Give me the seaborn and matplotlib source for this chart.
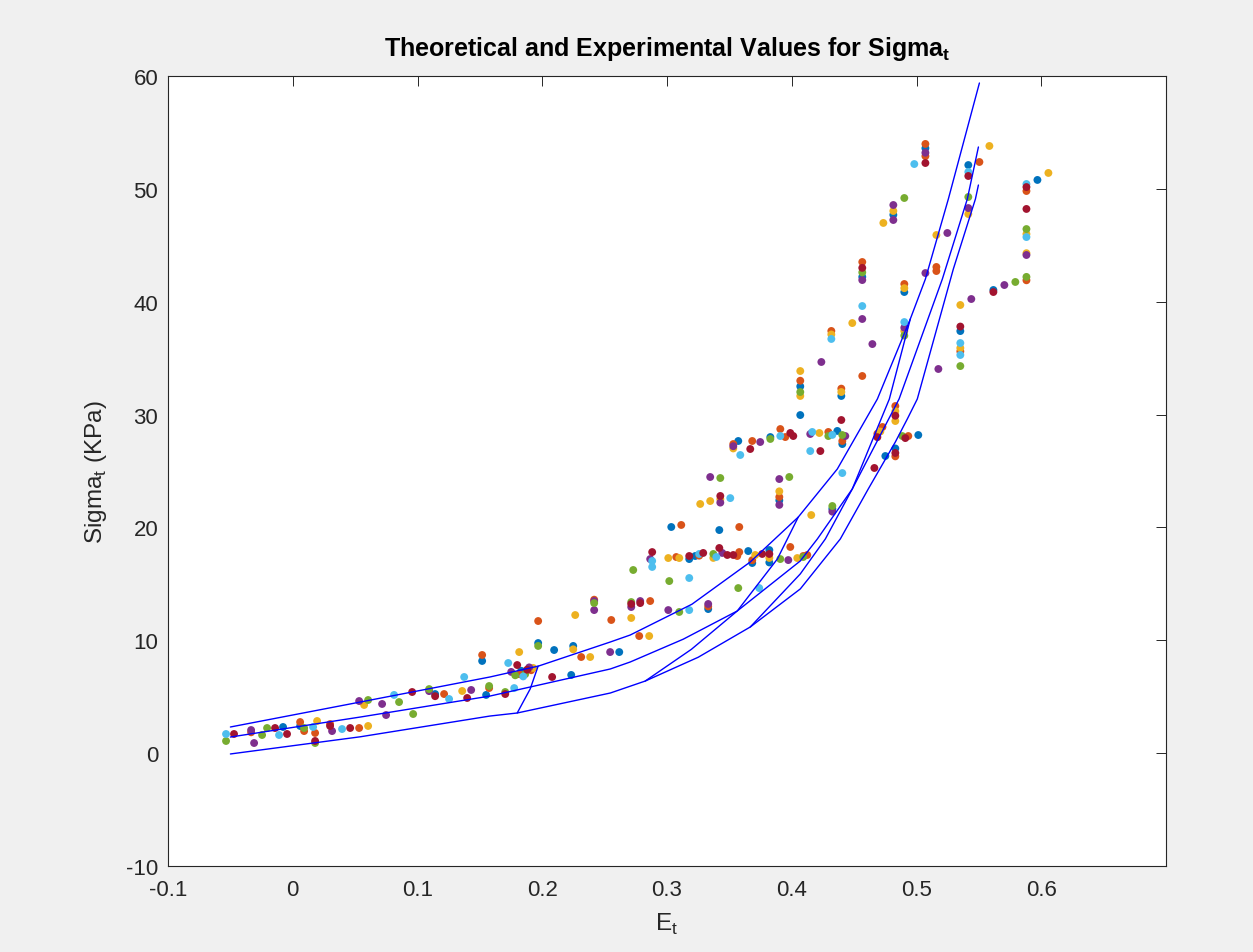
import pandas as pd
import seaborn as sns
import matplotlib
matplotlib.use('Agg')
import matplotlib.pyplot as plt

# experimental points, one list pair per colour
blue_x = [-0.0078, 0.0059, 0.1141, 0.1518, 0.1550, 0.1831, 0.1863, 0.1967, 0.2095, 0.2232, 0.2248, 0.2617,
          0.3034, 0.3178, 0.3226, 0.3330, 0.3419, 0.3571, 0.3651, 0.3683, 0.3820, 0.3820, 0.3828, 0.3900,
          0.4068, 0.4068, 0.4325, 0.4365, 0.4397, 0.4405, 0.4565, 0.4750, 0.4830, 0.4902, 0.5014, 0.4814,
          0.5071, 0.5351, 0.5415, 0.5616, 0.5969]
blue_y = [2.32, 2.41, 5.24, 8.17, 5.16, 7.30, 7.15, 9.76, 9.14, 6.93, 9.50, 8.96,
          20.04, 17.20, 17.47, 12.77, 19.77, 27.66, 17.91, 16.85, 18.00, 16.90, 28.01, 22.40,
          29.96, 32.50, 21.65, 28.55, 31.65, 27.39, 42.20, 26.33, 27.00, 40.86, 28.19, 47.70,
          53.60, 37.40, 52.11, 41.04, 50.79]

orange_x = [-0.0334, 0.0059, 0.0091, 0.0179, 0.0299, 0.0532, 0.1213, 0.1518, 0.1574, 0.1815, 0.1911, 0.1967,
            0.2312, 0.2416, 0.2553, 0.2777, 0.2865, 0.3074, 0.3114, 0.3258, 0.3330, 0.3531, 0.3563, 0.3579,
            0.3579, 0.3683, 0.3683, 0.3900, 0.3908, 0.3948, 0.3988, 0.4068, 0.4092, 0.4124, 0.4293, 0.4317,
            0.4397, 0.4405, 0.4565, 0.4565, 0.4686, 0.4727, 0.4830, 0.4830, 0.4902, 0.4934, 0.5071, 0.5071,
            0.5159, 0.5159, 0.5351, 0.5504, 0.5881, 0.5881]
orange_y = [1.85, 2.76, 1.96, 1.79, 2.58, 2.23, 5.24, 8.70, 5.77, 7.00, 7.35, 11.71,
            8.52, 13.60, 11.80, 10.38, 13.48, 17.38, 20.22, 17.50, 13.00, 27.39, 17.47, 17.82,
            20.04, 27.66, 17.10, 22.70, 28.72, 28.01, 18.27, 33.00, 17.47, 17.56, 28.46, 37.41,
            32.30, 27.66, 43.52, 33.42, 28.30, 28.90, 30.76, 26.30, 41.57, 28.10, 53.98, 52.90,
            43.08, 42.72, 35.60, 52.38, 49.81, 41.90]

yellow_x = [0.0195, 0.0572, 0.0604, 0.1358, 0.1815, 0.1927, 0.2248, 0.2264, 0.2384, 0.2713, 0.2857, 0.3010,
            0.3098, 0.3266, 0.3346, 0.3371, 0.3427, 0.3531, 0.3707, 0.3820, 0.3900, 0.4044, 0.4068, 0.4068,
            0.4156, 0.4221, 0.4317, 0.4397, 0.4485, 0.4710, 0.4734, 0.4814, 0.4830, 0.4830, 0.4902, 0.4902,
            0.5159, 0.5351, 0.5351, 0.5415, 0.5584, 0.5881, 0.5881, 0.6057]
yellow_y = [2.85, 4.27, 2.41, 5.51, 8.96, 7.55, 9.20, 12.24, 8.52, 11.98, 10.38, 17.29,
            17.29, 22.08, 22.34, 17.30, 22.50, 27.00, 17.56, 17.30, 23.20, 17.29, 31.65, 33.86,
            21.10, 28.37, 37.10, 32.00, 38.11, 28.50, 46.98, 48.04, 30.30, 29.43, 41.20, 37.40,
            45.91, 39.71, 35.90, 47.77, 53.80, 46.00, 44.30, 51.41]

purple_x = [-0.0334, -0.0310, 0.0315, 0.0532, 0.0716, 0.0748, 0.1093, 0.1430, 0.1751, 0.1895, 0.2416, 0.2416,
            0.2544, 0.2713, 0.2785, 0.2865, 0.3010, 0.3330, 0.3346, 0.3427, 0.3443, 0.3531, 0.3747, 0.3900,
            0.3900, 0.3972, 0.4148, 0.4237, 0.4325, 0.4429, 0.4565, 0.4565, 0.4646, 0.4814, 0.4814, 0.4902,
            0.5071, 0.5071, 0.5175, 0.5247, 0.5415, 0.5439, 0.5704, 0.5881]
purple_y = [2.05, 0.90, 1.96, 4.62, 4.36, 3.38, 5.50, 5.60, 7.20, 7.60, 13.48, 12.68,
            8.96, 12.95, 13.48, 17.20, 12.68, 13.22, 24.47, 22.20, 17.74, 27.20, 27.57, 24.29,
            22.00, 17.11, 28.28, 34.66, 21.40, 28.10, 38.47, 41.92, 36.25, 48.57, 47.24, 37.70,
            53.20, 42.54, 34.04, 46.09, 48.30, 40.24, 41.48, 44.14]

green_x = [-0.0535, -0.0246, -0.0206, 0.0091, 0.0179, 0.0604, 0.0852, 0.0965, 0.1093, 0.1574, 0.1703, 0.1783,
           0.1863, 0.1967, 0.2416, 0.2713, 0.2729, 0.3018, 0.3098, 0.3371, 0.3427, 0.3571, 0.3828, 0.3908,
           0.3980, 0.4068, 0.4092, 0.4293, 0.4325, 0.4405, 0.4565, 0.4886, 0.4902, 0.4902, 0.5351, 0.5415,
           0.5792, 0.5881, 0.5881]
green_y = [1.08, 1.61, 2.23, 2.23, 0.90, 4.71, 4.53, 3.47, 5.68, 5.95, 5.42, 6.90,
           7.00, 9.50, 13.30, 13.39, 16.23, 15.25, 12.51, 17.65, 24.38, 14.63, 27.84, 17.20,
           24.47, 32.00, 17.38, 28.10, 21.90, 28.19, 42.60, 28.10, 49.19, 37.00, 34.30, 49.28,
           41.75, 46.44, 42.20]

lblue_x = [-0.0535, -0.0110, 0.0163, 0.0395, 0.0812, 0.1253, 0.1374, 0.1727, 0.1775, 0.1847, 0.2881, 0.2881,
           0.3178, 0.3178, 0.3258, 0.3395, 0.3507, 0.3587, 0.3739, 0.3908, 0.4148, 0.4164, 0.4317, 0.4325,
           0.4405, 0.4565, 0.4902, 0.4982, 0.5351, 0.5351, 0.5415, 0.5881, 0.5881]
lblue_y = [1.70, 1.61, 2.32, 2.14, 5.16, 4.80, 6.75, 7.99, 5.77, 6.80, 17.03, 16.50,
           15.52, 12.68, 17.65, 17.38, 22.60, 26.42, 14.63, 28.10, 26.77, 28.46, 36.70, 28.20,
           24.82, 39.62, 38.20, 52.20, 36.34, 35.28, 51.50, 45.73, 50.43]

dred_x = [-0.0471, -0.0142, -0.0046, 0.0179, 0.0299, 0.0460, 0.0957, 0.1141, 0.1398, 0.1703, 0.1799, 0.1879,
          0.2079, 0.2713, 0.2785, 0.2881, 0.3178, 0.3290, 0.3419, 0.3427, 0.3483, 0.3531, 0.3667, 0.3763,
          0.3820, 0.3988, 0.4012, 0.4229, 0.4397, 0.4662, 0.4686, 0.4830, 0.4830, 0.4910, 0.4565, 0.5071,
          0.5351, 0.5415, 0.5616, 0.5881, 0.5881]
dred_y = [1.70, 2.23, 1.70, 1.08, 2.41, 2.23, 5.42, 5.05, 4.89, 5.24, 7.81, 7.40,
          6.75, 13.22, 13.30, 17.82, 17.47, 17.74, 18.18, 22.79, 17.56, 17.56, 26.95, 17.65,
          17.65, 28.37, 28.10, 26.77, 29.52, 25.27, 28.00, 29.90, 26.60, 27.92, 43.00, 52.29,
          37.80, 51.14, 40.86, 48.22, 50.16]

# theoretical curves, points
curve_a_x = [-0.050, 0.054, 0.158, 0.197, 0.2545, 0.2705, 0.320, 0.3667, 0.4052, 0.4365, 0.4686, 0.4950,
             0.5071, 0.5255, 0.5504]
curve_a_y = [2.32, 4.53, 6.75, 7.72, 9.85, 10.47, 13.20, 16.94, 20.92, 25.18, 31.38, 38.47,
             42.01, 49.10, 59.38]
curve_b_x = [-0.050, 0.054, 0.158, 0.2545, 0.2705, 0.313, 0.3563, 0.4068, 0.4205, 0.4485, 0.4860, 0.5207,
             0.5407, 0.5496]
curve_b_y = [1.43, 3.20, 5.06, 7.46, 8.08, 10.10, 12.60, 17.03, 18.98, 23.41, 31.38, 42.01,
             49.10, 53.71]
curve_c_x = [-0.050, 0.054, 0.158, 0.1799, 0.2545, 0.2825, 0.325, 0.3667, 0.4068, 0.4389, 0.4613, 0.4830,
             0.4926, 0.5006, 0.5295, 0.5472, 0.5496]
curve_c_y = [-0.07, 1.45, 3.29, 3.56, 5.33, 6.39, 8.50, 11.18, 14.55, 18.98, 23.41, 27.57,
             29.61, 31.38, 42.90, 49.10, 50.34]
curve_d_x = [0.3667, 0.4068, 0.4269, 0.4485, 0.4782, 0.4950]
curve_d_y = [11.18, 15.88, 18.98, 23.41, 31.38, 38.47]
branch1_x = [0.1967, 0.1903, 0.1799]
branch1_y = [7.72, 5.69, 3.56]
branch2_x = [0.2825, 0.3195, 0.3563, 0.3884, 0.4052]
branch2_y = [6.39, 9.20, 12.60, 17.20, 20.92]

x_ticks = [-0.1, 0, 0.1, 0.2, 0.3, 0.4, 0.5, 0.6]
x_labels = ['-0.1', '0', '0.1', '0.2', '0.3', '0.4', '0.5', '0.6']
y_ticks = [-10, 0, 10, 20, 30, 40, 50, 60]
y_labels = ['-10', '0', '10', '20', '30', '40', '50', '60']

matlab_colors = {'blue': '#0072BD', 'orange': '#D95319', 'yellow': '#EDB120', 'purple': '#7E2F8E',
                 'green': '#77AC30', 'lblue': '#4DBEEE', 'dred': '#A2142F'}

series = {'blue': (blue_x, blue_y), 'orange': (orange_x, orange_y), 'yellow': (yellow_x, yellow_y),
          'purple': (purple_x, purple_y), 'green': (green_x, green_y), 'lblue': (lblue_x, lblue_y),
          'dred': (dred_x, dred_y)}
frames = []
for name, (xs, ys) in series.items():
    frames.append(pd.DataFrame({'E': xs, 'S': ys, 'run': name}))
df = pd.concat(frames, ignore_index=True)

sns.set_theme(style='white')
plt.rcParams['font.family'] = ['Liberation Sans', 'DejaVu Sans']
plt.rcParams['axes.unicode_minus'] = False
plt.rcParams['mathtext.fontset'] = 'custom'
plt.rcParams['mathtext.rm'] = 'Liberation Sans'
plt.rcParams['mathtext.bf'] = 'Liberation Sans:bold'

fig = plt.figure(figsize=(12.53, 9.53), dpi=100, facecolor='#f0f0f0')
ax = fig.add_axes([0.1341, 0.0902, 0.7965, 0.829])
ax.set_facecolor('white')

sns.scatterplot(data=df, x='E', y='S', hue='run', palette=matlab_colors, s=32, linewidth=0,
                legend=False, ax=ax, zorder=2)

for cx, cy in [(curve_a_x, curve_a_y), (curve_b_x, curve_b_y), (curve_c_x, curve_c_y),
               (curve_d_x, curve_d_y), (branch1_x, branch1_y), (branch2_x, branch2_y)]:
    sns.lineplot(x=cx, y=cy, sort=False, estimator=None, color='#0000ff', linewidth=1.0, ax=ax, zorder=3)

ax.set_xlim(-0.1, 0.7)
ax.set_ylim(-10, 60)
ax.set_xticks(x_ticks)
ax.set_xticklabels(x_labels)
ax.set_yticks(y_ticks)
ax.set_yticklabels(y_labels)
ax.tick_params(direction='in', top=True, right=True, length=7, width=0.7, color='#262626',
               labelsize=16, labelcolor='#262626')
ax.tick_params(axis='x', pad=9)
ax.tick_params(axis='y', pad=7)
for sp in ax.spines.values():
    sp.set_color('#262626')
    sp.set_linewidth(0.8)

ax.set_title(r'Theoretical and Experimental Values for Sigma$_\mathbf{t}$', fontsize=18,
             fontweight='bold', pad=15, color='black')
ax.set_xlabel(r'E$_\mathregular{t}$', fontsize=17.5, color='#262626', labelpad=8)
ax.set_ylabel(r'Sigma$_\mathregular{t}$ (KPa)', fontsize=17.5, color='#262626', labelpad=12)

fig.savefig('out.png', dpi=100, facecolor=fig.get_facecolor())
